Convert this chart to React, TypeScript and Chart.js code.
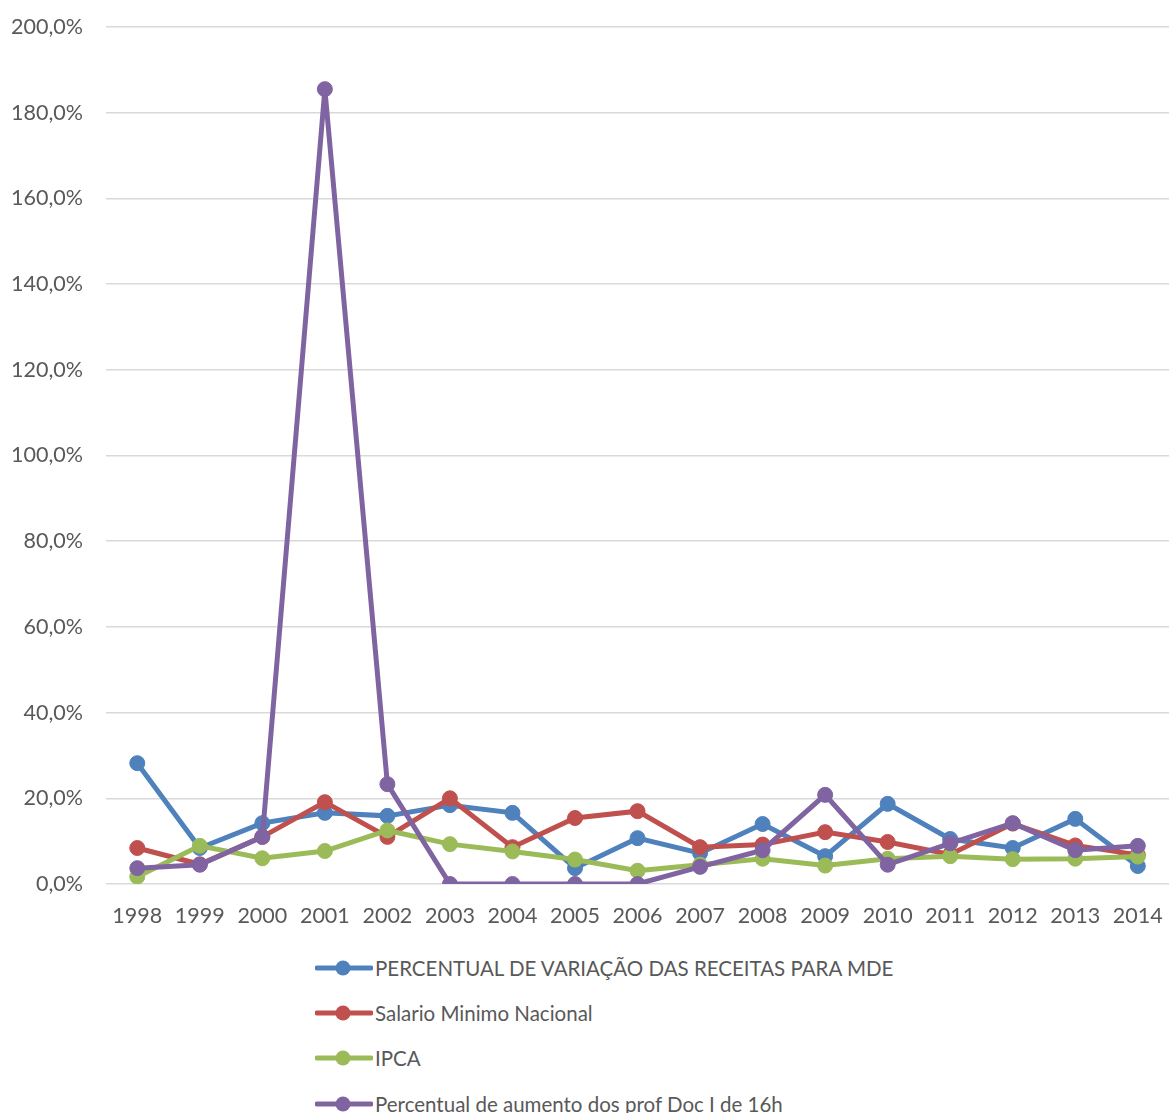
import React, { useEffect, useRef } from "react";
import { Chart, registerables } from "chart.js";

Chart.register(...registerables);

const years = ["1998", "1999", "2000", "2001", "2002", "2003", "2004", "2005", "2006", "2007", "2008", "2009", "2010", "2011", "2012", "2013", "2014"];
const receitasMDE = [28.2, 8.4, 14.2, 16.6, 15.9, 18.4, 16.6, 3.7, 10.7, 7.2, 14.0, 6.5, 18.7, 10.5, 8.4, 15.2, 4.2];
const salarioMinimo = [8.4, 4.6, 11.0, 19.1, 11.0, 20.0, 8.6, 15.4, 17.0, 8.6, 9.2, 12.1, 9.8, 6.9, 14.1, 9.0, 6.8];
const ipca = [1.7, 8.9, 6.0, 7.7, 12.5, 9.3, 7.6, 5.7, 3.1, 4.5, 5.9, 4.3, 5.9, 6.5, 5.8, 5.9, 6.4];
const profDoc = [3.7, 4.5, 11.0, 185.5, 23.3, 0, 0, 0, 0, 4.0, 7.9, 20.8, 4.5, 9.5, 14.2, 7.9, 8.9];

const seriesNames = [
  "PERCENTUAL DE VARIAÇÃO DAS RECEITAS PARA MDE",
  "Salario Minimo Nacional",
  "IPCA",
  "Percentual de aumento dos prof Doc I de 16h",
];
const seriesData = [receitasMDE, salarioMinimo, ipca, profDoc];
const seriesColors = ["#4F81BD", "#C0504D", "#9BBB59", "#8064A2"];

const yMin = 0;
const yMax = 200;
const yStep = 20;

const FONT = "Lato, 'Open Sans', sans-serif";
const TEXT = "#595959";

export default function App() {
  const ref = useRef<HTMLCanvasElement | null>(null);

  useEffect(() => {
    if (!ref.current) return;
    const chart = new Chart(ref.current, {
      type: "line",
      data: {
        labels: years,
        datasets: seriesNames.map((name, i) => ({
          label: name,
          data: seriesData[i],
          borderColor: seriesColors[i],
          backgroundColor: seriesColors[i],
          pointBackgroundColor: seriesColors[i],
          pointBorderColor: seriesColors[i],
          pointRadius: 7.5,
          pointBorderWidth: 1,
          borderWidth: 5,
          tension: 0,
          fill: false,
          order: seriesNames.length - i,
        })),
      },
      options: {
        animation: false,
        responsive: false,
        devicePixelRatio: 1,
        layout: { padding: { top: 0, left: 0, right: 0, bottom: 0 } },
        plugins: {
          legend: { display: false },
          tooltip: { enabled: false },
          title: { display: false },
        },
        scales: {
          x: {
            offset: true,
            grid: { display: false, drawTicks: false },
            border: { display: false },
            ticks: {
              color: TEXT,
              font: { family: FONT, size: 21.5 },
              padding: 19,
              maxRotation: 0,
              autoSkip: false,
            },
            afterFit: (s: any) => {
              s.height = 56;
            },
          },
          y: {
            min: yMin,
            max: yMax,
            grid: { color: "#D9D9D9", lineWidth: 1.5, drawTicks: false },
            border: { display: false },
            ticks: {
              stepSize: yStep,
              color: TEXT,
              font: { family: FONT, size: 21.5 },
              padding: 23,
              callback: (v: any) => Number(v).toFixed(1).replace(".", ",") + "%",
            },
            afterFit: (s: any) => {
              s.width = 106;
              s.paddingTop = 27;
              s.paddingBottom = 0;
            },
          },
        },
      },
    });
    return () => chart.destroy();
  }, []);

  const rowCenters = [968, 1013, 1058, 1104];

  return (
    <div
      style={{
        position: "absolute",
        left: 0,
        top: 0,
        width: 1171,
        height: 1113,
        overflow: "hidden",
        background: "#fff",
      }}
    >
      <canvas ref={ref} width={1182} height={940} style={{ position: "absolute", left: 0, top: 0 }} />
      {seriesNames.map((name, i) => (
        <div
          key={name}
          style={{
            position: "absolute",
            left: 315,
            top: rowCenters[i] - 15,
            height: 30,
            display: "flex",
            alignItems: "center",
            whiteSpace: "nowrap",
            fontFamily: FONT,
            fontSize: 20.5,
            color: TEXT,
          }}
        >
          <svg width={58} height={30} style={{ flex: "none" }}>
            <line x1={2} y1={15} x2={56} y2={15} stroke={seriesColors[i]} strokeWidth={5} strokeLinecap="round" />
            <circle cx={28} cy={15} r={7.5} fill={seriesColors[i]} />
          </svg>
          <span style={{ marginLeft: 2 }}>{name}</span>
        </div>
      ))}
    </div>
  );
}
